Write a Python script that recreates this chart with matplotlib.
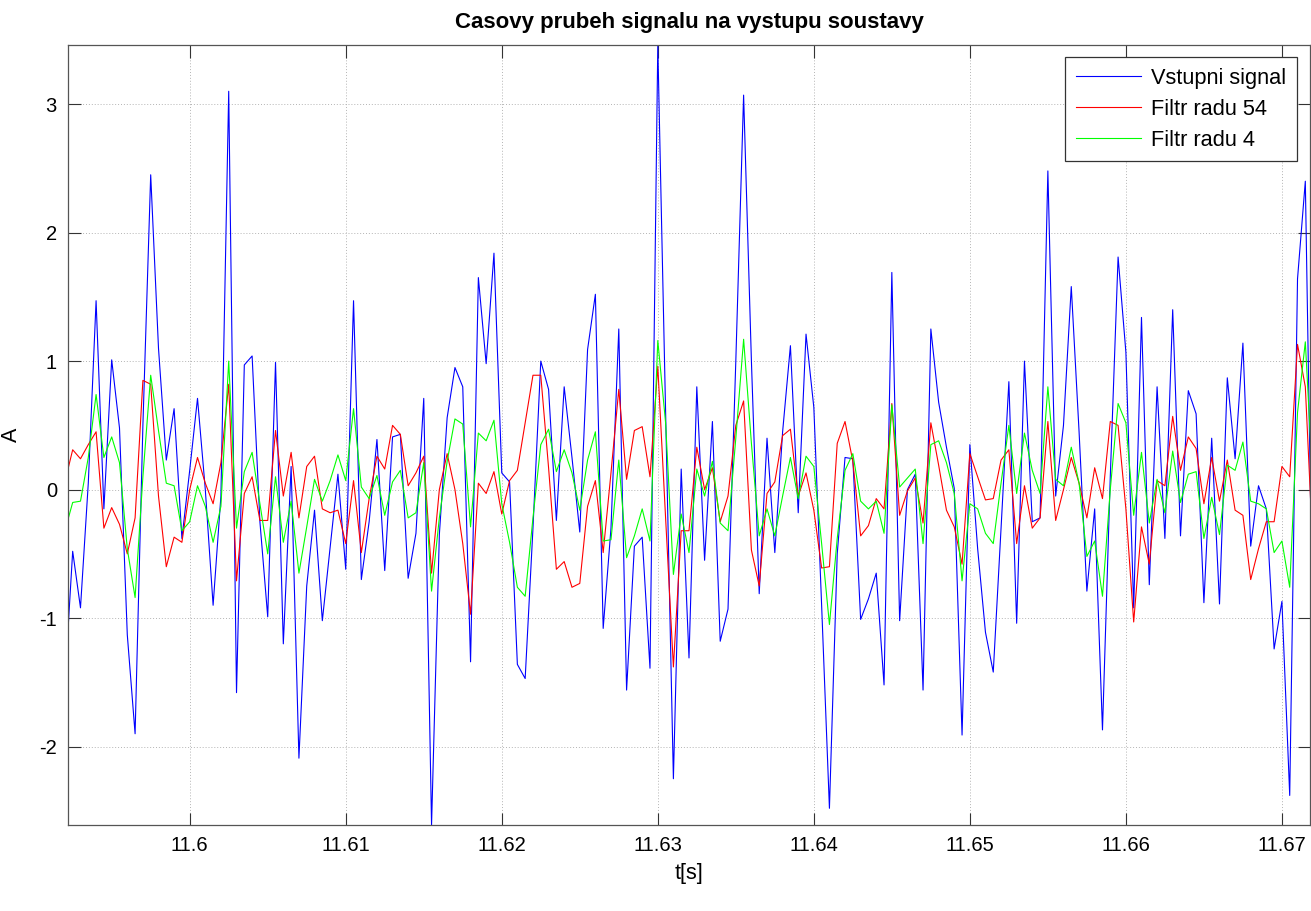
import numpy as np
import matplotlib
matplotlib.use("Agg")
import matplotlib.pyplot as plt
from matplotlib.ticker import FixedLocator, FuncFormatter

# Time axis: sampled at 2 kHz starting at t0
t0 = 11.592
fs = 2000.0

# Input signal
vstup = [
    -1.50, -0.48, -0.92, 0.05, 1.47, -0.15, 1.01, 0.48, -1.13, -1.90,
    0.50, 2.45, 1.10, 0.23, 0.63, -0.38, 0.15, 0.71, 0.00, -0.90,
    -0.05, 3.10, -1.58, 0.97, 1.04, -0.25, -0.99, 0.99, -1.20, 0.18,
    -2.09, -0.75, -0.16, -1.02, -0.45, 0.12, -0.62, 1.47, -0.70, -0.25,
    0.39, -0.63, 0.41, 0.43, -0.69, -0.34, 0.71, -2.61, -0.35, 0.56,
    0.95, 0.80, -1.34, 1.65, 0.98, 1.84, 0.13, 0.06, -1.36, -1.47,
    -0.30, 1.00, 0.78, -0.24, 0.80, 0.25, -0.33, 1.09, 1.52, -1.08,
    -0.30, 1.25, -1.56, -0.44, -0.37, -1.39, 3.46, 0.60, -2.25, 0.16,
    -1.31, 0.80, -0.55, 0.53, -1.18, -0.93, 1.00, 3.07, 1.00, -0.81,
    0.40, -0.49, 0.45, 1.12, -0.18, 1.21, 0.64, -0.90, -2.48, -0.50,
    0.25, 0.24, -1.01, -0.85, -0.65, -1.52, 1.69, -1.02, 0.00, 0.12,
    -1.56, 1.25, 0.68, 0.33, 0.01, -1.91, 0.35, -0.46, -1.11, -1.42,
    -0.30, 0.84, -1.04, 1.00, -0.25, -0.22, 2.48, -0.05, 0.50, 1.58,
    0.45, -0.79, -0.15, -1.87, 0.10, 1.81, 1.07, -0.92, 1.34, -0.74,
    0.80, -0.38, 1.40, -0.36, 0.77, 0.59, -0.88, 0.40, -0.89, 0.87,
    0.24, 1.14, -0.44, 0.03, -0.15, -1.24, -0.87, -2.38, 1.64, 2.40,
    -1.30,
]

# Output of the order-54 filter
filtr54 = [
    0.06, 0.31, 0.24, 0.35, 0.45, -0.30, -0.14, -0.27, -0.50, -0.22,
    0.85, 0.82, -0.05, -0.60, -0.37, -0.41, 0.00, 0.25, 0.05, -0.11,
    0.21, 0.82, -0.71, -0.03, 0.10, -0.24, -0.24, 0.46, -0.05, 0.29,
    -0.22, 0.18, 0.26, -0.15, -0.18, -0.16, -0.42, 0.07, -0.49, -0.07,
    0.26, 0.16, 0.50, 0.43, 0.03, 0.13, 0.26, -0.65, 0.00, 0.28,
    0.00, -0.42, -0.97, 0.05, -0.03, 0.14, -0.19, 0.07, 0.15, 0.52,
    0.89, 0.89, 0.17, -0.62, -0.56, -0.76, -0.73, -0.13, 0.07, -0.49,
    0.13, 0.78, 0.08, 0.46, 0.49, 0.10, 0.96, -0.22, -1.38, -0.32,
    -0.32, 0.33, 0.00, 0.17, -0.25, -0.05, 0.50, 0.69, -0.47, -0.75,
    -0.03, 0.06, 0.42, 0.47, -0.05, 0.13, -0.16, -0.61, -0.60, 0.36,
    0.53, 0.22, -0.36, -0.28, -0.07, -0.15, 0.67, -0.20, -0.01, 0.09,
    -0.26, 0.52, 0.19, -0.16, -0.29, -0.58, 0.28, 0.10, -0.08, -0.07,
    0.23, 0.31, -0.42, 0.03, -0.30, -0.22, 0.53, -0.24, 0.00, 0.25,
    0.05, -0.22, 0.17, -0.07, 0.53, 0.50, -0.15, -1.03, -0.29, -0.58,
    0.07, 0.03, 0.57, 0.15, 0.41, 0.32, -0.11, 0.25, -0.09, 0.23,
    -0.16, -0.20, -0.70, -0.46, -0.25, -0.25, 0.18, 0.10, 1.13, 0.80,
    -0.50,
]

# Output of the order-4 filter
filtr4 = [
    -0.32, -0.10, -0.09, 0.25, 0.74, 0.25, 0.41, 0.21, -0.46, -0.84,
    0.10, 0.89, 0.46, 0.05, 0.03, -0.32, -0.25, 0.03, -0.13, -0.41,
    -0.13, 1.00, -0.30, 0.14, 0.29, -0.11, -0.50, 0.10, -0.41, -0.09,
    -0.65, -0.29, 0.08, -0.09, 0.07, 0.27, 0.07, 0.63, 0.02, -0.07,
    0.11, -0.20, 0.06, 0.15, -0.22, -0.18, 0.21, -0.79, -0.22, 0.22,
    0.55, 0.51, -0.29, 0.44, 0.38, 0.54, -0.11, -0.41, -0.76, -0.83,
    -0.22, 0.35, 0.47, 0.14, 0.31, 0.13, -0.16, 0.23, 0.45, -0.40,
    -0.39, 0.23, -0.53, -0.36, -0.15, -0.40, 1.16, 0.52, -0.66, -0.19,
    -0.49, 0.16, -0.05, 0.22, -0.26, -0.32, 0.40, 1.17, 0.36, -0.36,
    -0.15, -0.36, -0.05, 0.25, -0.07, 0.26, 0.18, -0.42, -1.05, -0.38,
    0.15, 0.28, -0.09, -0.15, -0.09, -0.34, 0.66, 0.02, 0.09, 0.16,
    -0.42, 0.35, 0.38, 0.21, -0.03, -0.71, -0.11, -0.15, -0.34, -0.42,
    0.05, 0.50, -0.03, 0.44, 0.15, -0.03, 0.80, 0.08, 0.03, 0.33,
    0.05, -0.52, -0.40, -0.83, 0.00, 0.67, 0.52, -0.20, 0.29, -0.26,
    0.08, -0.18, 0.30, -0.10, 0.12, 0.14, -0.38, -0.06, -0.35, 0.19,
    0.15, 0.37, -0.09, -0.11, -0.15, -0.49, -0.40, -0.76, 0.60, 1.15,
    0.00,
]

labels = ["Vstupni signal", "Filtr radu 54", "Filtr radu 4"]
xticks = [11.6, 11.61, 11.62, 11.63, 11.64, 11.65, 11.66, 11.67]
yticks = [-2, -1, 0, 1, 2, 3]

t = t0 + np.arange(len(vstup)) / fs

plt.rcParams["font.family"] = ["Liberation Sans", "DejaVu Sans"]

W, H = 1311, 911
fig = plt.figure(figsize=(W / 100, H / 100), dpi=100)
ax = fig.add_axes([68 / W, 1 - 825 / H, (1310 - 68) / W, (825 - 45) / H])

ax.plot(t, vstup, color=(0, 0, 1), lw=0.8, label=labels[0])
ax.plot(t, filtr54, color=(1, 0, 0), lw=0.8, label=labels[1])
ax.plot(t, filtr4, color=(0, 1, 0), lw=0.8, label=labels[2])

ax.set_xlim(11.5922, 11.6718)
ax.set_ylim(-2.61, 3.46)
ax.xaxis.set_major_locator(FixedLocator(xticks))
ax.yaxis.set_major_locator(FixedLocator(yticks))
ax.xaxis.set_major_formatter(FuncFormatter(lambda v, p: f"{v:g}"))
ax.yaxis.set_major_formatter(FuncFormatter(lambda v, p: f"{v:g}"))

ax.grid(True, linestyle=(0, (1, 2)), color="#b4b4b4", lw=0.7)
ax.tick_params(direction="in", length=9, width=0.8, color="#333333",
               top=True, right=True, labelsize=14.5, pad=8)
for s in ax.spines.values():
    s.set_color("#555555")
    s.set_linewidth(0.9)

ax.set_title("Casovy prubeh signalu na vystupu soustavy", fontsize=16,
             fontweight="bold", pad=12)
ax.set_xlabel("t[s]", fontsize=15.5, labelpad=6)
ax.set_ylabel("A", fontsize=15.5)
ax.yaxis.set_label_coords(-0.037, 0.5)

leg = fig.legend(loc="upper right", bbox_to_anchor=(1297 / W, 1 - 57 / H),
                 borderaxespad=0, fontsize=15.7, fancybox=False,
                 edgecolor="#333333", framealpha=1, handlelength=3.0,
                 handletextpad=0.45, labelspacing=0.45, borderpad=0.5)
leg.get_frame().set_linewidth(0.9)

fig.savefig("out.png", dpi=100)
